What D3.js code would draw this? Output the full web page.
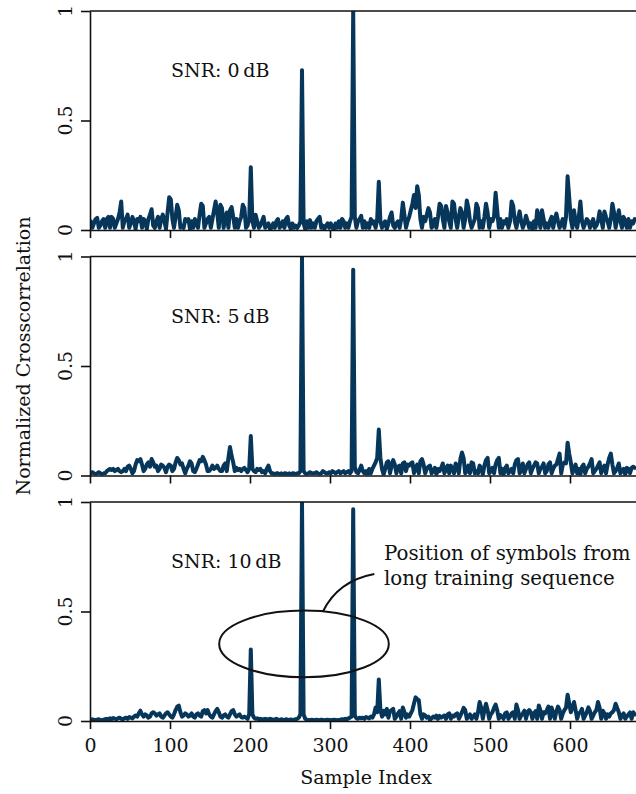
<!DOCTYPE html>
<html><head><meta charset="utf-8">
<script src="https://cdn.jsdelivr.net/npm/d3@7"></script>
<style>
html,body{margin:0;padding:0;background:#fff;overflow:hidden}
svg{display:block}
text{font-family:"DejaVu Serif",serif;fill:#111}
</style></head><body>
<svg id="chart" width="636" height="794"></svg>
<script>
// Sample indices: firstSample, firstSample+sampleStep, ...
const firstSample = 1;
const sampleStep = 2;

const panelLabels = ["SNR: 0\u2009dB", "SNR: 5\u2009dB", "SNR: 10\u2009dB"];

const snr0 = [
 .04,.01,.03,.05,.055,.01,.02,.04,.05,.01,
 .05,.06,.01,.06,.05,.01,.03,.05,.08,.13,
 .01,.04,.05,.07,.01,.03,.06,.04,.005,.05,
 .04,.06,.01,.05,.04,.005,.05,.07,.095,.02,
 .01,.04,.06,.01,.05,.07,.04,.005,.08,.15,
 .14,.05,.01,.06,.115,.09,.01,.02,.01,.05,
 .04,.05,.005,.04,.01,.05,.03,.01,.07,.12,
 .11,.01,.03,.05,.06,.01,.05,.09,.13,.08,
 .01,.115,.1,.01,.05,.08,.01,.09,.105,.06,
 .01,.05,.01,.04,.06,.115,.1,.01,.02,.05,
 .286,.04,.01,.07,.04,.01,.02,.04,.06,.01,
 .02,.03,.005,.01,.03,.01,.04,.05,.01,.02,
 .04,.01,.05,.06,.02,.005,.03,.01,.02,.01,
 .02,.04,.73,.03,.005,.04,.01,.045,.01,.03,
 .01,.04,.05,.06,.01,.02,.005,.02,.03,.01,
 .03,.01,.005,.03,.01,.04,.01,.05,.04,.01,
 .03,.01,.04,.06,1,.06,.01,.04,.05,.065,
 .01,.04,.01,.03,.01,.05,.03,.04,.01,.05,
 .22,.04,.01,.03,.04,.005,.03,.06,.08,.02,
 .01,.03,.04,.01,.05,.125,.07,.01,.04,.06,
 .09,.12,.16,.1,.2,.16,.05,.01,.06,.04,
 .07,.1,.08,.01,.02,.05,.01,.06,.12,.11,
 .05,.01,.11,.08,.04,.01,.13,.12,.05,.01,
 .06,.1,.08,.01,.05,.135,.1,.04,.01,.03,
 .05,.12,.1,.01,.04,.01,.06,.12,.08,.01,
 .05,.04,.06,.17,.09,.01,.05,.01,.04,.03,
 .05,.01,.04,.13,.11,.04,.01,.05,.085,.04,
 .01,.03,.065,.04,.01,.03,.005,.04,.01,.09,
 .06,.01,.09,.05,.01,.03,.01,.04,.06,.01,
 .05,.075,.04,.01,.03,.05,.01,.06,.245,.15,
 .05,.01,.09,.04,.01,.06,.13,.04,.01,.03,
 .05,.04,.01,.03,.05,.01,.02,.04,.085,.05,
 .01,.085,.06,.04,.01,.05,.12,.08,.01,.05,
 .09,.04,.01,.06,.04,.01,.05,.01,.04,.03,
 .05
];

const snr5 = [
 .01,.015,.01,.005,.01,.015,.01,.005,.01,.01,
 .02,.025,.03,.025,.03,.02,.025,.03,.02,.015,
 .02,.03,.02,.04,.045,.03,.01,.02,.05,.07,
 .065,.075,.05,.02,.03,.05,.06,.04,.075,.06,
 .04,.045,.02,.03,.05,.045,.035,.015,.04,.05,
 .045,.02,.03,.06,.08,.07,.05,.055,.03,.01,
 .03,.045,.065,.055,.02,.015,.03,.05,.07,.065,
 .085,.07,.05,.02,.02,.03,.045,.03,.035,.045,
 .03,.02,.02,.045,.055,.02,.08,.13,.09,.06,
 .02,.035,.025,.03,.02,.03,.035,.025,.015,.03,
 .18,.03,.02,.015,.03,.025,.03,.015,.02,.01,
 .03,.045,.02,.01,.01,.005,.01,.01,.005,.01,
 .005,.01,.01,.005,.01,.005,.01,.01,.005,.01,
 .01,.02,1,.02,.01,.005,.01,.015,.01,.01,
 .01,.015,.01,.005,.01,.02,.015,.01,.01,.015,
 .01,.02,.015,.01,.015,.02,.01,.015,.02,.01,
 .015,.02,.01,.02,.94,.04,.015,.01,.025,.045,
 .02,.01,.02,.005,.03,.01,.03,.045,.06,.08,
 .21,.08,.03,.005,.03,.06,.065,.01,.045,.07,
 .05,.01,.04,.045,.01,.055,.06,.02,.05,.045,
 .055,.06,.01,.035,.05,.01,.065,.075,.05,.01,
 .03,.04,.045,.01,.02,.035,.005,.03,.02,.035,
 .055,.01,.03,.045,.01,.045,.03,.01,.055,.045,
 .01,.075,.105,.08,.01,.02,.045,.01,.06,.055,
 .01,.02,.01,.045,.035,.005,.045,.07,.08,.01,
 .02,.035,.01,.05,.07,.08,.01,.03,.005,.035,
 .045,.01,.02,.03,.01,.05,.07,.075,.01,.025,
 .055,.01,.03,.05,.06,.01,.03,.045,.06,.055,
 .01,.03,.04,.055,.01,.02,.05,.06,.01,.03,
 .045,.05,.075,.1,.01,.05,.06,.055,.15,.1,
 .06,.01,.03,.05,.01,.03,.005,.04,.05,.01,
 .03,.04,.055,.075,.01,.02,.03,.045,.06,.01,
 .035,.045,.01,.05,.08,.1,.05,.01,.02,.035,
 .055,.01,.025,.03,.005,.035,.03,.01,.035,.04,
 .035
];

const snr10 = [
 .005,.008,.005,.003,.006,.008,.005,.004,.006,.008,
 .01,.006,.012,.008,.014,.01,.008,.012,.015,.01,
 .008,.012,.015,.01,.018,.015,.012,.02,.025,.02,
 .035,.047,.03,.02,.03,.025,.015,.02,.035,.04,
 .035,.025,.03,.035,.02,.015,.025,.035,.04,.03,
 .02,.015,.03,.05,.065,.07,.04,.02,.025,.035,
 .03,.02,.025,.035,.02,.015,.03,.035,.025,.02,
 .045,.05,.035,.05,.03,.02,.015,.03,.045,.055,
 .04,.02,.015,.025,.03,.02,.015,.03,.045,.05,
 .03,.02,.025,.03,.018,.015,.02,.015,.01,.03,
 .327,.03,.015,.01,.012,.008,.01,.006,.008,.01,
 .008,.006,.01,.008,.005,.007,.01,.006,.005,.008,
 .006,.005,.008,.006,.004,.007,.005,.006,.008,.01,
 .015,.03,1,.03,.01,.006,.005,.004,.006,.005,
 .004,.006,.005,.004,.006,.005,.004,.005,.006,.004,
 .005,.004,.006,.005,.004,.005,.006,.008,.006,.01,
 .008,.012,.015,.02,.967,.025,.012,.01,.015,.012,
 .015,.01,.018,.015,.012,.02,.015,.03,.062,.04,
 .19,.05,.02,.047,.03,.055,.015,.045,.05,.055,
 .01,.02,.035,.045,.01,.062,.04,.015,.03,.02,
 .035,.05,.08,.108,.1,.095,.03,.01,.03,.025,
 .015,.02,.005,.012,.02,.015,.025,.01,.023,.015,
 .02,.025,.01,.03,.035,.01,.025,.02,.03,.035,
 .01,.025,.04,.06,.05,.01,.02,.03,.01,.02,
 .03,.01,.04,.087,.06,.01,.05,.079,.05,.01,
 .03,.04,.06,.075,.05,.01,.027,.02,.01,.035,
 .039,.01,.02,.035,.04,.01,.075,.05,.01,.025,
 .035,.047,.01,.04,.05,.04,.01,.035,.045,.01,
 .071,.05,.01,.04,.035,.05,.066,.01,.062,.035,
 .01,.045,.066,.05,.01,.035,.05,.06,.12,.08,
 .04,.06,.087,.05,.01,.035,.04,.055,.01,.025,
 .04,.062,.045,.01,.025,.04,.05,.087,.06,.01,
 .047,.035,.01,.03,.02,.035,.04,.05,.079,.06,
 .04,.01,.025,.035,.01,.02,.03,.039,.01,.04,
 .03
];

const xTicks = [0, 100, 200, 300, 400, 500, 600];
const yTicks = [0, 0.5, 1];
const yTickLabels = ["0", "0.5", "1"];
const xAxisTitle = "Sample Index";
const yAxisTitle = "Normalized Crosscorrelation";
const annotationText = ["Position of symbols from", "long training sequence"];

// ---------- layout ----------
const svg = d3.select("#chart");
const left = 90, plotRight = 650;
const panelTops = [11, 256.5, 502];
const panelH = 219;
const lineColor = "#07365b";
const fontSize = 19;

const x = d3.scaleLinear().domain([0, 700]).range([left, plotRight]);
const seriesList = [snr0, snr5, snr10];

const defs = svg.append("defs");

seriesList.forEach((vals, p) => {
  const top = panelTops[p], bottom = top + panelH;
  const y = d3.scaleLinear().domain([0, 1]).range([bottom, top]);
  const g = svg.append("g");

  defs.append("clipPath").attr("id", "clip" + p)
    .append("rect").attr("x", left).attr("y", top).attr("width", plotRight - left).attr("height", panelH);

  const line = d3.line()
    .x((d, i) => x(firstSample + i * sampleStep))
    .y(d => y(d));

  g.append("path")
    .datum(vals)
    .attr("clip-path", `url(#clip${p})`)
    .attr("fill", "none")
    .attr("stroke", lineColor)
    .attr("stroke-width", 4)
    .attr("stroke-linejoin", "round")
    .attr("stroke-linecap", "round")
    .attr("d", line);

  // top frame line
  g.append("line").attr("x1", left).attr("x2", plotRight)
    .attr("y1", y(1)).attr("y2", y(1))
    .attr("stroke", "#111").attr("stroke-width", 1.6);

  // left axis
  const ay = g.append("g").attr("transform", `translate(${left},0)`)
    .call(d3.axisLeft(y).tickValues(yTicks).tickSize(9).tickSizeOuter(0).tickFormat(""));
  ay.selectAll("path,line").attr("stroke", "#111").attr("stroke-width", 1.6);

  // y tick labels (rotated)
  yTicks.forEach((v, i) => {
    g.append("text")
      .attr("transform", `translate(72,${y(v)}) rotate(-90)`)
      .attr("text-anchor", "middle")
      .attr("font-size", fontSize)
      .text(yTickLabels[i]);
  });

  // bottom axis
  const ax = g.append("g").attr("transform", `translate(0,${bottom})`)
    .call(d3.axisBottom(x).tickValues(xTicks).tickSize(8).tickSizeOuter(0)
      .tickFormat(p === 2 ? d3.format("d") : ""));
  ax.selectAll("path,line").attr("stroke", "#111").attr("stroke-width", 1.6);
  ax.selectAll("text").attr("font-size", fontSize)
    .attr("font-family", '"DejaVu Serif",serif').attr("fill", "#111").attr("dy", "1.05em");

  // panel label
  g.append("text").attr("x", 171).attr("y", top + 66)
    .attr("font-size", fontSize).text(panelLabels[p]);

  if (p === 2) {
    // annotation ellipse around the LTS peaks
    const cx = x(267.5), cy = y(0.352);
    const rx = x(267.5 + 106) - cx, ry = y(0) - y(0.152);
    g.append("ellipse").attr("cx", cx).attr("cy", cy).attr("rx", rx).attr("ry", ry)
      .attr("fill", "none").attr("stroke", "#111").attr("stroke-width", 2);
    const p0 = [x(291), y(0.499)], c = [x(310), y(0.64)], p1 = [x(355.4), y(0.671)];
    g.append("path").attr("d", `M${p0[0]},${p0[1]} Q${c[0]},${c[1]} ${p1[0]},${p1[1]}`)
      .attr("fill", "none").attr("stroke", "#111").attr("stroke-width", 2);
    annotationText.forEach((t, i) => {
      g.append("text").attr("x", x(367.5)).attr("y", y(0.735) + i * 25)
        .attr("font-size", 19.8).text(t);
    });
  }
});

// axis titles
svg.append("text").attr("x", 366).attr("y", 784).attr("text-anchor", "middle")
  .attr("font-size", fontSize).text(xAxisTitle);
svg.append("text").attr("transform", "translate(30,356) rotate(-90)")
  .attr("text-anchor", "middle").attr("font-size", fontSize).text(yAxisTitle);
</script>
</body></html>
